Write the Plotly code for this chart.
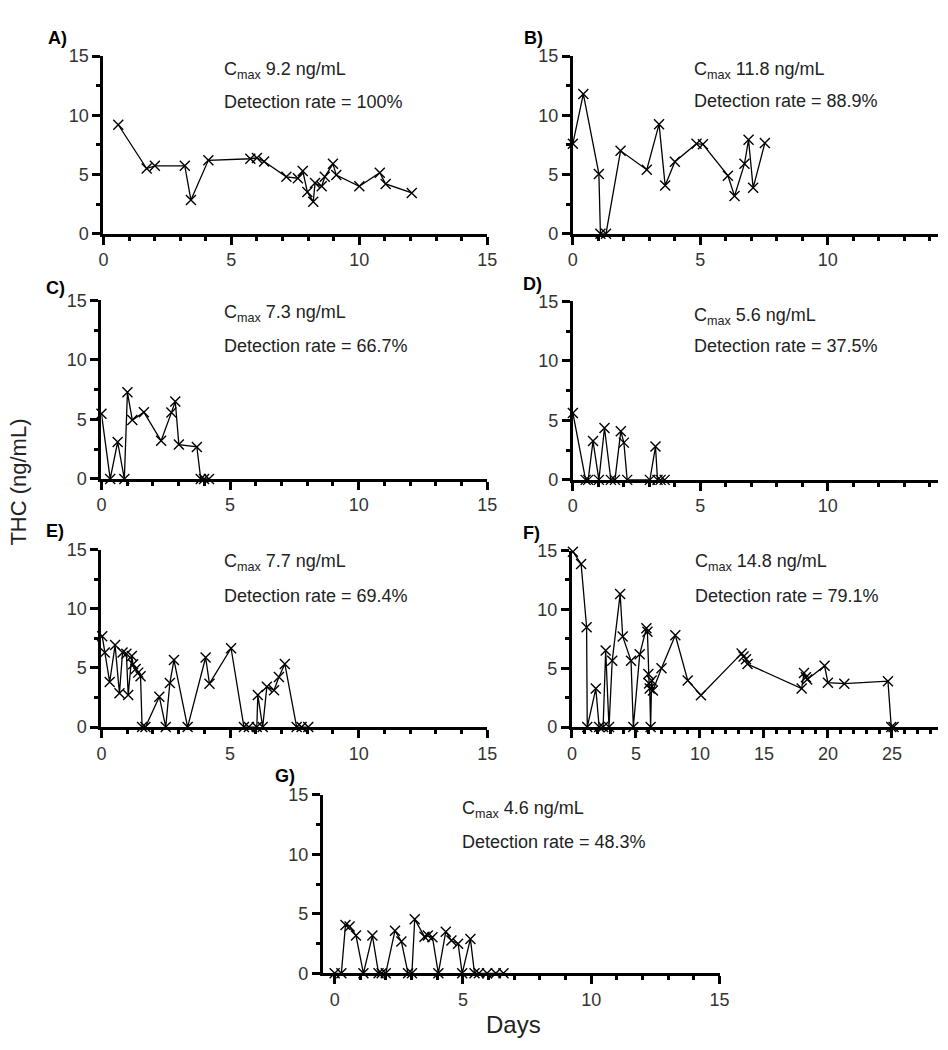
import plotly.graph_objects as go

W, H = 948, 1050

# ---------------- data (days, THC ng/mL) ----------------
A_x = [0.58, 1.69, 2.01, 3.18, 3.42, 4.1, 5.74, 6.0, 6.28, 7.15, 7.6, 7.79, 7.97, 8.2, 8.27, 8.53, 8.65, 8.97, 9.1, 10.0, 10.8, 11.03, 12.05]
A_y = [9.2, 5.5, 5.73, 5.73, 2.84, 6.2, 6.33, 6.4, 6.1, 4.8, 4.68, 5.3, 3.52, 2.7, 4.27, 4.0, 4.8, 5.9, 4.95, 4.0, 5.15, 4.2, 3.44]

B_x = [0, 0.41, 1.02, 1.08, 1.3, 1.87, 2.9, 3.38, 3.62, 4.0, 4.85, 5.1, 6.08, 6.34, 6.73, 6.89, 7.07, 7.53]
B_y = [7.6, 11.8, 5.05, 0, 0, 7.0, 5.4, 9.25, 4.06, 6.08, 7.6, 7.55, 4.9, 3.18, 5.9, 7.93, 3.87, 7.65]

C_x = [0, 0.34, 0.63, 0.89, 1.01, 1.2, 1.65, 2.32, 2.72, 2.87, 3.01, 3.71, 3.86, 3.99, 4.18]
C_y = [5.48, 0, 3.1, 0, 7.27, 4.94, 5.6, 3.2, 5.57, 6.5, 2.88, 2.69, 0, 0, 0]

D_x = [0, 0.5, 0.6, 0.79, 1.02, 1.24, 1.49, 1.65, 1.88, 2.0, 2.13, 3.02, 3.24, 3.32, 3.44, 3.6]
D_y = [5.62, 0, 0, 3.26, 0, 4.36, 0, 0, 4.09, 3.13, 0, 0, 2.8, 0, 0, 0]

E_x = [0.03, 0.13, 0.32, 0.53, 0.7, 0.82, 0.97, 1.04, 1.18, 1.23, 1.33, 1.43, 1.52, 1.58, 1.71, 2.25, 2.5, 2.66, 2.82, 3.35,
       4.05, 4.2, 5.04, 5.54, 5.73, 6.04, 6.08, 6.27, 6.43, 6.71, 6.9, 7.13, 7.59, 7.78, 8.04]
E_y = [7.68, 6.3, 3.8, 6.93, 2.85, 6.3, 6.2, 2.7, 6.0, 5.3, 4.9, 4.6, 4.3, 0, 0, 2.57, 0, 3.73, 5.66, 0,
       5.88, 3.67, 6.66, 0, 0, 0, 2.7, 0, 3.4, 3.12, 4.23, 5.33, 0, 0, 0]

F_x = [0.08, 0.72, 1.15, 1.2, 1.87, 2.13, 2.44, 2.64, 2.9, 3.15, 3.77, 3.97, 4.62, 4.8, 5.3, 5.82, 5.9, 5.97, 6.03, 6.08,
       6.15, 6.23, 6.33, 7.0, 8.08, 9.05, 10.08, 13.26, 13.41, 13.6, 13.72, 17.95, 18.13, 18.28, 18.38, 19.74, 20.0, 21.28,
       24.69, 24.95, 25.13]
F_y = [14.9, 13.86, 8.48, 0, 3.27, 0, 0, 6.5, 0, 5.63, 11.3, 7.7, 5.63, 0, 6.18, 8.4, 8.1, 4.5, 3.7, 3.27,
       0, 3.95, 3.1, 5.0, 7.8, 3.96, 2.7, 6.26, 6.0, 5.77, 5.35, 3.27, 4.6, 4.24, 4.05, 5.2, 3.77, 3.69,
       3.9, 0, 0]

G_x = [0, 0.26, 0.42, 0.58, 0.83, 1.12, 1.47, 1.71, 1.83, 1.99, 2.35, 2.6, 2.86, 3.01, 3.12, 3.5, 3.63, 3.81, 4.04,
       4.33, 4.55, 4.81, 4.97, 5.29, 5.45, 5.62, 5.94, 6.28, 6.58]
G_y = [0, 0, 4.05, 3.94, 3.17, 0, 3.17, 0, 0, 0, 3.58, 2.67, 0, 0, 4.54, 3.08, 3.17, 3.03, 0,
       3.5, 2.75, 2.48, 0, 2.89, 0, 0, 0, 0, 0]

panel_labels = ["A)", "B)", "C)", "D)", "E)", "F)", "G)"]
cmax = ["9.2", "11.8", "7.3", "5.6", "7.7", "14.8", "4.6"]
detection = ["100%", "88.9%", "66.7%", "37.5%", "69.4%", "79.1%", "48.3%"]
series = [(A_x, A_y), (B_x, B_y), (C_x, C_y), (D_x, D_y), (E_x, E_y), (F_x, F_y), (G_x, G_y)]
y_ticks = [0, 5, 10, 15]

# ---------------- layout geometry (pixels) ----------------
geom = [
    (100, 490, 47, 228, [0, 15], 5),
    (577, 948, 47, 228, [0, 14.32], 5),
    (98, 490, 296, 478, [0, 15], 5),
    (577, 948, 297, 479, [0, 14.32], 5),
    (98, 490, 550, 731, [0, 15], 5),
    (576, 948, 551, 731, [0, 28.6], 5),
    (323, 726, 800, 982, [-0.46, 15], 5),
]
label_pos = [(42, 29), (525, 29), (40, 283), (524, 279), (40, 531), (524, 533), (272, 781)]
text_pos = [(220, 62, 94), (698, 62, 93), (220, 309, 343), (698, 312, 343),
            (220, 563, 597), (699, 563, 597), (462, 815, 848)]

FONT = "Liberation Sans, Arial, Helvetica, sans-serif"

def px(x):
    return x / W

def py(y):
    return 1 - y / H

fig = go.Figure()
layout = dict(width=W, height=H, margin=dict(l=0, r=0, t=0, b=0),
              paper_bgcolor="white", plot_bgcolor="white", showlegend=False,
              font=dict(family=FONT, color="#333"))
annotations = []

for i, ((xs, ys), g) in enumerate(zip(series, geom)):
    n = "" if i == 0 else str(i + 1)
    xl, xr, yt, yb, xrng, xd = g
    fig.add_trace(go.Scatter(
        x=xs, y=ys, mode="lines+markers", xaxis="x" + n, yaxis="y" + n,
        line=dict(color="black", width=1.3),
        marker=dict(symbol="x-thin", size=10, line=dict(color="black", width=1.4)),
        cliponaxis=False, hoverinfo="x+y"))
    common = dict(showgrid=False, zeroline=False, showline=True, linecolor="black", linewidth=3,
                  ticks="outside", ticklen=8, tickwidth=2.5, tickcolor="black",
                  tickfont=dict(size=18, color="#333", family=FONT), fixedrange=True)
    layout["xaxis" + n] = dict(domain=[px(xl), px(xr)], range=xrng, anchor="y" + n,
                               tick0=0, dtick=xd,
                               minor=dict(dtick=1, tick0=0, ticks="outside", ticklen=4, tickwidth=2.5,
                                          tickcolor="black", showgrid=False),
                               **common)
    layout["yaxis" + n] = dict(domain=[py(yb), py(yt)], range=[0, 15], anchor="x" + n,
                               tickvals=y_ticks,
                               minor=dict(dtick=2.5, tick0=0, ticks="outside", ticklen=4, tickwidth=2.5,
                                          tickcolor="black", showgrid=False),
                               **common)
    lx, ly = label_pos[i]
    annotations.append(dict(text="<b>" + panel_labels[i] + "</b>", x=px(lx), y=py(ly), xref="paper", yref="paper",
                            xanchor="left", yanchor="middle", showarrow=False,
                            font=dict(size=18, color="black", family=FONT)))
    tx, t1, t2 = text_pos[i]
    annotations.append(dict(text="C<sub>max</sub> " + cmax[i] + " ng/mL", x=px(tx), y=py(t1),
                            xref="paper", yref="paper", xanchor="left", yanchor="middle", showarrow=False,
                            font=dict(size=18, color="#222", family=FONT)))
    annotations.append(dict(text="Detection rate = " + detection[i], x=px(tx), y=py(t2),
                            xref="paper", yref="paper", xanchor="left", yanchor="middle", showarrow=False,
                            font=dict(size=18, color="#222", family=FONT)))

annotations.append(dict(text="Days", x=px(517), y=py(1034), xref="paper", yref="paper",
                        xanchor="center", yanchor="middle", showarrow=False,
                        font=dict(size=24, color="#222", family=FONT)))
annotations.append(dict(text="THC (ng/mL)", x=px(14), y=py(481), xref="paper", yref="paper",
                        xanchor="center", yanchor="middle", showarrow=False, textangle=-90,
                        font=dict(size=22, color="#222", family=FONT)))
layout["annotations"] = annotations
fig.update_layout(**layout)
fig.write_html("out.html", config={"displayModeBar": False},
               post_script="document.body.style.margin='0';document.body.style.overflow='hidden';")
